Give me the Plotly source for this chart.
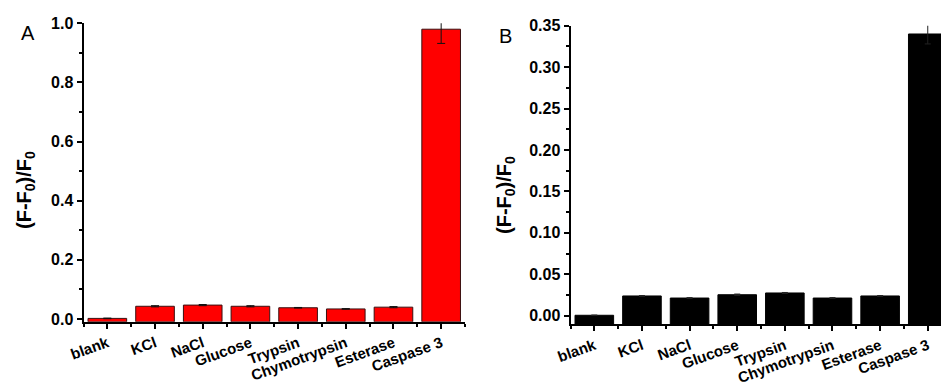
import plotly.graph_objects as go

categories = ["blank", "KCl", "NaCl", "Glucose", "Trypsin", "Chymotrypsin", "Esterase", "Caspase 3"]
values_a = [0.002, 0.043, 0.047, 0.043, 0.038, 0.034, 0.040, 0.980]
errors_a = [0.001, 0.002, 0.002, 0.002, 0.001, 0.001, 0.002, 0.048]
values_b = [0.0005, 0.0238, 0.0213, 0.0253, 0.0274, 0.0213, 0.0238, 0.340]
errors_b = [0.0003, 0.0005, 0.0005, 0.0008, 0.0006, 0.0005, 0.0005, 0.012]
yticks_a = [0.0, 0.2, 0.4, 0.6, 0.8, 1.0]
yticks_b = [0.00, 0.05, 0.10, 0.15, 0.20, 0.25, 0.30, 0.35]

W, H = 941, 387
FONT = "Liberation Sans, Arial, sans-serif"
YMIN_A = -0.0095
YMIN_B = -0.0104

xs = list(range(len(categories)))

fig = go.Figure()
fig.add_trace(go.Bar(
    x=xs, y=[v - YMIN_A for v in values_a], base=YMIN_A,
    width=0.81, marker=dict(color="#ff0000", line=dict(color="#3a1010", width=1)),
    error_y=dict(type="data", array=errors_a, color="#111111", thickness=1, width=4),
    xaxis="x", yaxis="y", showlegend=False,
))
fig.add_trace(go.Bar(
    x=xs, y=[v - YMIN_B for v in values_b], base=YMIN_B,
    width=0.81, marker=dict(color="#000000", line=dict(color="#000000", width=1)),
    error_y=dict(type="data", array=errors_b, color="#222222", thickness=1, width=3),
    xaxis="x2", yaxis="y2", showlegend=False,
))

xcommon = dict(
    tickmode="array", tickvals=xs, ticktext=categories, tickangle=-20,
    ticks="outside", ticklen=5, tickwidth=1.5, tickcolor="black",
    showline=True, linecolor="black", linewidth=2, showgrid=False, zeroline=False,
    tickfont=dict(family=FONT, size=15, color="black", weight="bold"),
    minor=dict(tickmode="linear", tick0=0.5, dtick=1, ticks="outside", ticklen=3,
               tickwidth=1.5, tickcolor="black", showgrid=False),
    automargin=False, fixedrange=True,
)
ycommon = dict(
    ticks="outside", ticklen=5, tickwidth=1.5, tickcolor="black",
    showline=True, linecolor="black", linewidth=2, showgrid=False, zeroline=False,
    tickfont=dict(family=FONT, size=16, color="black", weight="bold"),
    automargin=False, fixedrange=True,
)

TITLE = "(F-F<sub>0</sub>)/F<sub>0</sub>"

fig.update_layout(
    width=W, height=H,
    margin=dict(l=0, r=0, t=0, b=0),
    paper_bgcolor="white", plot_bgcolor="white",
    bargap=0.19,
    xaxis=dict(domain=[83.5 / W, 465 / W], range=[-0.5, 7.5], anchor="y", **xcommon),
    yaxis=dict(domain=[(H - 321.8) / H, (H - 23.3) / H], range=[YMIN_A, 1.0], anchor="x",
               tickmode="array", tickvals=yticks_a, ticktext=[f"{v:.1f}" for v in yticks_a],
               minor=dict(tickmode="linear", tick0=0, dtick=0.1, ticks="outside", ticklen=3,
                          tickwidth=1.5, tickcolor="black", showgrid=False),
               **ycommon),
    xaxis2=dict(domain=[570.5 / W, 1.0], range=[-0.5, 7.278], anchor="y2", **xcommon),
    yaxis2=dict(domain=[(H - 324.3) / H, (H - 25.7) / H], range=[YMIN_B, 0.35], anchor="x2",
                tickmode="array", tickvals=yticks_b, ticktext=[f"{v:.2f}" for v in yticks_b],
                minor=dict(tickmode="linear", tick0=0, dtick=0.025, ticks="outside", ticklen=3,
                           tickwidth=1.5, tickcolor="black", showgrid=False),
                **ycommon),
    annotations=[
        dict(text="A", x=28 / W, y=1 - 33.5 / H, xref="paper", yref="paper",
             xanchor="center", yanchor="middle", showarrow=False,
             font=dict(family=FONT, size=20, color="black")),
        dict(text="B", x=505 / W, y=1 - 36 / H, xref="paper", yref="paper",
             xanchor="center", yanchor="middle", showarrow=False,
             font=dict(family=FONT, size=20, color="black")),
        dict(text=TITLE, x=25 / W, y=1 - 190 / H, xref="paper", yref="paper",
             xanchor="center", yanchor="middle", showarrow=False, textangle=-90,
             font=dict(family=FONT, size=20, color="black", weight="bold")),
        dict(text=TITLE, x=505 / W, y=1 - 195 / H, xref="paper", yref="paper",
             xanchor="center", yanchor="middle", showarrow=False, textangle=-90,
             font=dict(family=FONT, size=20, color="black", weight="bold")),
    ],
)

fig.write_html(
    "out.html",
    config={"displayModeBar": False},
    post_script="document.body.style.margin='0';document.body.style.overflow='hidden';",
)
